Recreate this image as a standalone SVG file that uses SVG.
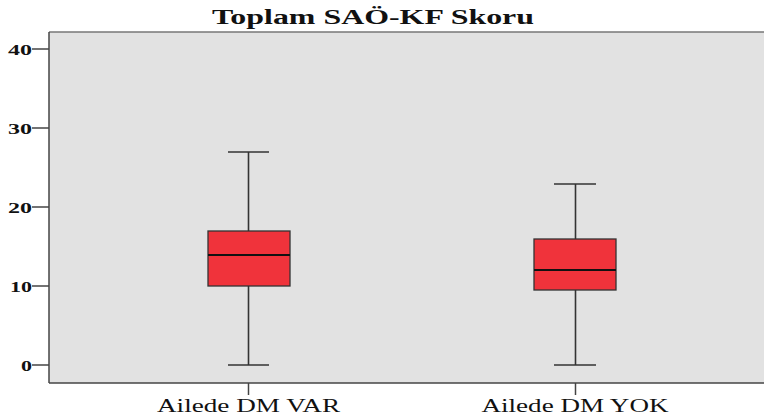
<svg xmlns="http://www.w3.org/2000/svg" width="764" height="418" viewBox="0 0 764 418">
<style>
.t{font-family:"Liberation Serif","Times New Roman",serif;fill:#111}
.ttl{font-size:20px;font-weight:bold}
.yl{font-size:15px;font-weight:bold;text-anchor:end}
.xl{font-size:19px;text-anchor:middle}
.ax{stroke:#444;stroke-width:1.5;fill:none}
.wh{stroke:#333;stroke-width:1.6;fill:none}
.box{fill:#f0333b;stroke:#333;stroke-width:1.3}
.med{stroke:#111;stroke-width:2.2}
</style>
<rect width="764" height="418" fill="#fff"/>
<g id="plot-area">
<rect x="49" y="32" width="716" height="351" fill="#e2e2e2"/>
<line x1="49" y1="32" x2="764" y2="32" stroke="#777" stroke-width="1.5"/>
<line x1="49" y1="383" x2="764" y2="383" class="ax"/>
<line x1="49" y1="32" x2="49" y2="383" class="ax"/>
</g>
<text id="title" class="t ttl" x="212" y="24" textLength="322" lengthAdjust="spacingAndGlyphs">Toplam SAÖ-KF Skoru</text>
<g id="y-axis">
<line x1="32" y1="49" x2="49" y2="49" class="ax"/>
<line x1="32" y1="128" x2="49" y2="128" class="ax"/>
<line x1="32" y1="207" x2="49" y2="207" class="ax"/>
<line x1="32" y1="286" x2="49" y2="286" class="ax"/>
<line x1="32" y1="365" x2="49" y2="365" class="ax"/>
<text class="t yl" x="32" y="55" textLength="24" lengthAdjust="spacingAndGlyphs">40</text>
<text class="t yl" x="32" y="134" textLength="24" lengthAdjust="spacingAndGlyphs">30</text>
<text class="t yl" x="32" y="213" textLength="24" lengthAdjust="spacingAndGlyphs">20</text>
<text class="t yl" x="32" y="292" textLength="22" lengthAdjust="spacingAndGlyphs">10</text>
<text class="t yl" x="32" y="371" textLength="11" lengthAdjust="spacingAndGlyphs">0</text>
</g>
<g id="box-var">
<line x1="248.5" y1="152" x2="248.5" y2="365" class="wh"/>
<line x1="228" y1="152" x2="269" y2="152" class="wh"/>
<line x1="228" y1="365" x2="269" y2="365" class="wh"/>
<rect x="208" y="231" width="82" height="55" class="box"/>
<line x1="208" y1="255" x2="290" y2="255" class="med"/>
</g>
<g id="box-yok">
<line x1="575.5" y1="184" x2="575.5" y2="365" class="wh"/>
<line x1="554" y1="184" x2="596" y2="184" class="wh"/>
<line x1="554" y1="365" x2="596" y2="365" class="wh"/>
<rect x="534" y="239" width="82" height="51" class="box"/>
<line x1="534" y1="270" x2="616" y2="270" class="med"/>
</g>
<g id="x-axis">
<line x1="248.5" y1="383" x2="248.5" y2="395" class="ax"/>
<line x1="575.5" y1="383" x2="575.5" y2="395" class="ax"/>
<text class="t xl" x="248.5" y="412" textLength="183" lengthAdjust="spacingAndGlyphs">Ailede DM VAR</text>
<text class="t xl" x="575" y="412" textLength="187" lengthAdjust="spacingAndGlyphs">Ailede DM YOK</text>
</g>
</svg>
